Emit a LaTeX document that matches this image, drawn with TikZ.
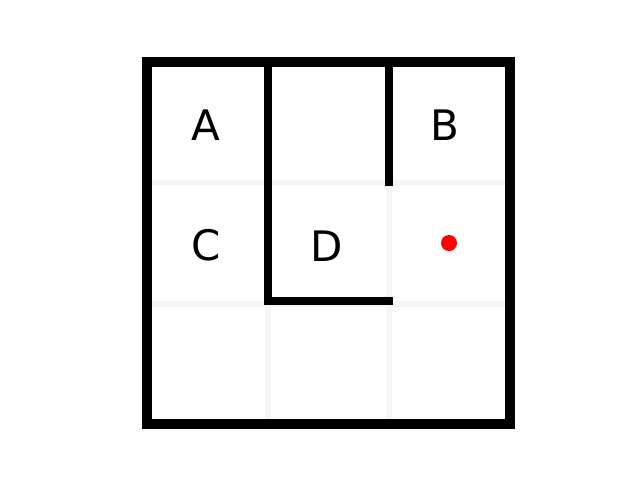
\documentclass[tikz,border=0pt]{standalone}
\usepackage{fontspec}
\setmainfont{DejaVu Sans}
\tikzset{
  gridline/.style={line width=6pt, draw={rgb,255:red,245;green,245;blue,245}},
  wall/.style={line width=8pt, draw=black, line cap=rect},
  outerwall/.style={line width=9.5pt, draw=black, line join=miter},
  lbl/.style={font=\fontsize{42}{42}\selectfont, inner sep=0pt, anchor=center},
}
\begin{document}
\begin{tikzpicture}[x=1pt,y=-1pt]
\useasboundingbox (0,0) rectangle (640,480);
% grid
\draw[gridline] (268,62) -- (268,424);
\draw[gridline] (389,62) -- (389,424);
\draw[gridline] (147,183) -- (510,183);
\draw[gridline] (147,304) -- (510,304);
% outer border
\coordinate (tl) at (147,62);
\coordinate (br) at (510,424);
\draw[outerwall] (tl) rectangle (br);
% inner walls
\coordinate (w1a) at (268,62);
\coordinate (w1b) at (268,301);
\coordinate (w1c) at (389,301);
\draw[wall, line join=miter] (w1a) -- (w1b) -- (w1c);
\coordinate (w2a) at (388.5,62);
\coordinate (w2b) at (388.5,182);
\draw[wall] (w2a) -- (w2b);
% labels
\node[lbl] (A) at (206,125) {A};
\node[lbl] (B) at (445,125) {B};
\node[lbl] (C) at (206,245) {C};
\node[lbl] (D) at (327,246) {D};
% agent
\fill[red] (449,243) circle (8) coordinate (dot);
\end{tikzpicture}
\end{document}
